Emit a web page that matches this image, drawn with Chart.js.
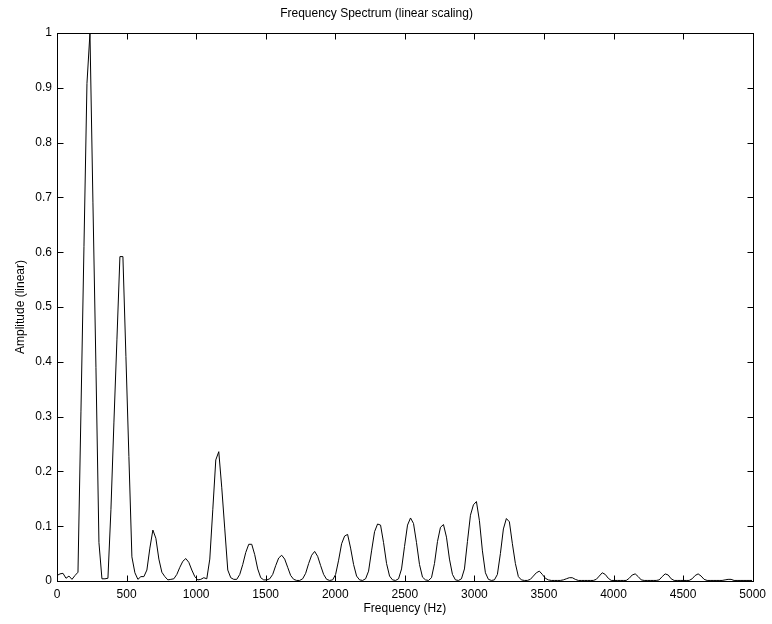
<!DOCTYPE html>
<html>
<head>
<meta charset="utf-8">
<script src="https://cdn.jsdelivr.net/npm/chart.js@4.4.1/dist/chart.umd.min.js"></script>
<style>
  body { margin: 0; background: #fff; }
  canvas { display: block; }
</style>
</head>
<body>
<canvas id="spectrum" width="772" height="624"></canvas>
<script>
// FFT bin spacing (44100 Hz / 2048 points)
const binHz = 44100 / 2048;

// amplitude of each bin (bin 0 .. 232)
const amplitude = [
  0.010, 0.013, 0.014, 0.005, 0.009, 0.003, 0.010, 0.016, 0.31, 0.61,
  0.908, 1.0, 0.69, 0.39, 0.07, 0.004, 0.004, 0.005, 0.13, 0.29,
  0.44, 0.592, 0.592, 0.41, 0.227, 0.044, 0.015, 0.003, 0.008, 0.008,
  0.02, 0.06, 0.093, 0.078, 0.04, 0.016, 0.008, 0.002, 0.003, 0.004,
  0.012, 0.025, 0.036, 0.041, 0.034, 0.02, 0.008, 0.002, 0.003, 0.006,
  0.004, 0.04, 0.13, 0.221, 0.236, 0.17, 0.095, 0.02, 0.006, 0.003,
  0.003, 0.012, 0.03, 0.052, 0.067, 0.067, 0.048, 0.022, 0.006, 0.002,
  0.002, 0.004, 0.012, 0.028, 0.042, 0.047, 0.04, 0.025, 0.01, 0.003,
  0.001, 0.001, 0.004, 0.014, 0.032, 0.047, 0.054, 0.045, 0.028, 0.012,
  0.003, 0.001, 0.002, 0.012, 0.038, 0.068, 0.082, 0.085, 0.06, 0.03,
  0.009, 0.002, 0.001, 0.004, 0.018, 0.055, 0.09, 0.104, 0.102, 0.07,
  0.032, 0.009, 0.002, 0.001, 0.004, 0.022, 0.063, 0.102, 0.115, 0.105,
  0.07, 0.03, 0.007, 0.002, 0.001, 0.006, 0.032, 0.072, 0.098, 0.103,
  0.08, 0.04, 0.012, 0.002, 0.001, 0.004, 0.022, 0.072, 0.12, 0.139,
  0.145, 0.11, 0.055, 0.015, 0.003, 0.001, 0.002, 0.012, 0.05, 0.095,
  0.114, 0.108, 0.068, 0.032, 0.008, 0.002, 0.001, 0.001, 0.003, 0.009,
  0.015, 0.018, 0.012, 0.005, 0.002, 0.001, 0.001, 0.001, 0.001, 0.002,
  0.004, 0.006, 0.006, 0.003, 0.001, 0.001, 0.001, 0.001, 0.001, 0.001,
  0.003, 0.009, 0.015, 0.012, 0.005, 0.001, 0.001, 0.001, 0.001, 0.001,
  0.001, 0.005, 0.011, 0.013, 0.008, 0.002, 0.001, 0.001, 0.001, 0.001,
  0.001, 0.002, 0.008, 0.013, 0.011, 0.004, 0.001, 0.001, 0.001, 0.001,
  0.001, 0.001, 0.004, 0.01, 0.013, 0.009, 0.003, 0.001, 0.001, 0.001,
  0.001, 0.001, 0.001, 0.002, 0.003, 0.003, 0.001, 0.001, 0.001, 0.001,
  0.001, 0.001, 0.001
];

const xTicks = [0, 500, 1000, 1500, 2000, 2500, 3000, 3500, 4000, 4500, 5000];
const yTicks = [0, 0.1, 0.2, 0.3, 0.4, 0.5, 0.6, 0.7, 0.8, 0.9, 1];

const points = amplitude.map((a, i) => ({ x: i * binHz, y: a }));
const fontFamily = "'Liberation Sans', Arial, Helvetica, sans-serif";

// matlab style box with ticks pointing inward
const boxPlugin = {
  id: 'box',
  afterDatasetsDraw(chart) {
    const ctx = chart.ctx;
    const a = chart.chartArea;
    const l = Math.round(a.left) + 0.5, r = Math.round(a.right) + 0.5;
    const t = Math.round(a.top) + 0.5, b = Math.round(a.bottom) + 0.5;
    const len = 6;
    ctx.save();
    ctx.strokeStyle = '#000';
    ctx.lineWidth = 1;
    ctx.strokeRect(l, t, r - l, b - t);
    ctx.beginPath();
    xTicks.forEach(v => {
      const px = Math.round(chart.scales.x.getPixelForValue(v)) + 0.5;
      ctx.moveTo(px, b); ctx.lineTo(px, b - len);
      ctx.moveTo(px, t); ctx.lineTo(px, t + len);
    });
    yTicks.forEach(v => {
      const py = Math.round(chart.scales.y.getPixelForValue(v)) + 0.5;
      ctx.moveTo(l, py); ctx.lineTo(l + len, py);
      ctx.moveTo(r, py); ctx.lineTo(r - len, py);
    });
    ctx.stroke();
    ctx.restore();
  }
};

new Chart(document.getElementById('spectrum'), {
  type: 'line',
  data: {
    datasets: [{
      data: points,
      borderColor: '#000',
      borderWidth: 1,
      pointRadius: 0,
      tension: 0,
      fill: false
    }]
  },
  options: {
    responsive: false,
    animation: false,
    layout: { padding: { left: 0, right: 19, top: 0, bottom: 0 } },
    plugins: {
      legend: { display: false },
      tooltip: { enabled: false },
      title: {
        display: true,
        text: 'Frequency Spectrum (linear scaling)',
        color: '#000',
        font: { family: fontFamily, size: 12, weight: 'normal' },
        padding: { top: 6, bottom: 12.6 }
      }
    },
    scales: {
      x: {
        type: 'linear',
        min: 0,
        max: 5000,
        afterFit: s => { s.height = 43; },
        afterBuildTicks: s => { s.ticks = xTicks.map(v => ({ value: v })); },
        grid: { display: false, drawTicks: false },
        border: { display: false },
        ticks: {
          color: '#000',
          padding: 6,
          maxRotation: 0,
          font: { family: fontFamily, size: 12 },
          callback: v => String(v)
        },
        title: {
          display: true,
          text: 'Frequency (Hz)',
          color: '#000',
          font: { family: fontFamily, size: 12 },
          padding: { top: 0, bottom: 8 }
        }
      },
      y: {
        min: 0,
        max: 1,
        afterFit: s => { s.width = 57; },
        afterBuildTicks: s => { s.ticks = yTicks.map(v => ({ value: v })); },
        grid: { display: false, drawTicks: false },
        border: { display: false },
        ticks: {
          color: '#000',
          padding: 5,
          font: { family: fontFamily, size: 12 },
          callback: v => String(v)
        },
        title: {
          display: true,
          text: 'Amplitude (linear)',
          color: '#000',
          font: { family: fontFamily, size: 12 },
          padding: { top: 13, bottom: 0 }
        }
      }
    }
  },
  plugins: [boxPlugin]
});
</script>
</body>
</html>
